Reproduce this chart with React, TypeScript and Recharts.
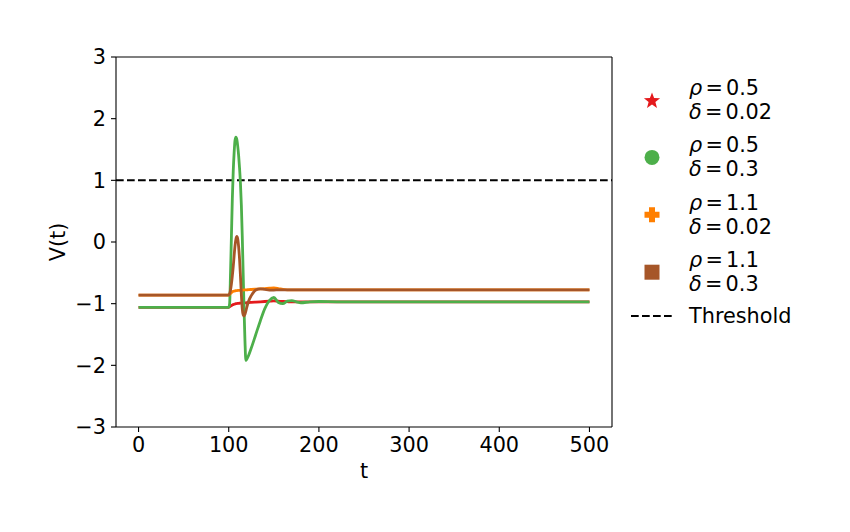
import { LineChart, Line, XAxis, YAxis, ReferenceLine } from 'recharts';

// time grid shared by every series
const tValues = [0, 100, 101, 102, 103, 104, 105, 106, 107, 108, 109, 110, 111, 112, 113, 114, 115, 116, 117, 118, 119, 120, 122, 125, 130, 135, 140, 145, 150, 155, 160, 165, 170, 175, 180, 190, 200, 220, 500];

// rho=0.5, delta=0.02
const redV = [-1.06, -1.06, -1.05, -1.04, -1.03, -1.02, -1.015, -1.01, -1.005, -1.0, -0.998, -0.995, -0.994, -0.993, -0.992, -0.991, -0.99, -0.989, -0.988, -0.987, -0.986, -0.985, -0.983, -0.98, -0.975, -0.97, -0.965, -0.96, -0.955, -0.96, -0.965, -0.968, -0.97, -0.97, -0.97, -0.97, -0.97, -0.97, -0.97];
// rho=0.5, delta=0.3
const greenV = [-1.06, -1.06, -1.0, -0.5, 0.1, 0.7, 1.15, 1.45, 1.65, 1.7, 1.66, 1.55, 1.4, 1.2, 0.95, 0.6, 0.1, -0.5, -1.1, -1.6, -1.92, -1.9, -1.84, -1.72, -1.5, -1.28, -1.08, -0.95, -0.9, -0.98, -1.0, -0.96, -0.95, -0.97, -0.985, -0.97, -0.965, -0.97, -0.97];
// rho=1.1, delta=0.02
const orangeV = [-0.86, -0.86, -0.85, -0.835, -0.82, -0.81, -0.8, -0.795, -0.792, -0.79, -0.788, -0.786, -0.785, -0.784, -0.783, -0.782, -0.78, -0.779, -0.778, -0.777, -0.776, -0.775, -0.773, -0.77, -0.765, -0.76, -0.755, -0.75, -0.745, -0.755, -0.77, -0.775, -0.775, -0.775, -0.775, -0.775, -0.775, -0.775, -0.775];
// rho=1.1, delta=0.3
const brownV = [-0.86, -0.86, -0.84, -0.78, -0.68, -0.55, -0.4, -0.22, -0.06, 0.05, 0.09, 0.05, -0.08, -0.28, -0.55, -0.85, -1.08, -1.18, -1.2, -1.17, -1.12, -1.06, -0.96, -0.87, -0.78, -0.76, -0.77, -0.78, -0.78, -0.775, -0.775, -0.775, -0.775, -0.775, -0.775, -0.775, -0.775, -0.775, -0.775];

const xTicks = [0, 100, 200, 300, 400, 500];
const yTicks = [-3, -2, -1, 0, 1, 2, 3];
const threshold = 1;

const seriesKeys = ['red', 'green', 'orange', 'brown'];
const colors: Record<string, string> = { red: '#e41a1c', green: '#4daf4a', orange: '#ff7f00', brown: '#a65628' };
const rhoLabels = ['0.5', '0.5', '1.1', '1.1'];
const deltaLabels = ['0.02', '0.3', '0.02', '0.3'];

const data = tValues.map((t, i) => ({
  t,
  red: redV[i],
  green: greenV[i],
  orange: orangeV[i],
  brown: brownV[i],
}));

const font = 'DejaVu Sans, sans-serif';
const fs = 20.8;
const minus = (v: number) => String(v).replace('-', '\u2212');

function starPoints(cx: number, cy: number, r: number) {
  const pts: string[] = [];
  for (let k = 0; k < 10; k++) {
    const rr = k % 2 === 0 ? r : r * 0.42;
    const a = -Math.PI / 2 + (k * Math.PI) / 5;
    pts.push(`${cx + rr * Math.cos(a)},${cy + rr * Math.sin(a)}`);
  }
  return pts.join(' ');
}

function Marker({ kind, x, y, color }: { kind: number; x: number; y: number; color: string }) {
  if (kind === 0) return <polygon points={starPoints(x, y + 1, 8.5)} fill={color} />;
  if (kind === 1) return <circle cx={x} cy={y} r={7.5} fill={color} />;
  if (kind === 2) {
    const a = 3, b = 7.5;
    const d = `M${x - a},${y - b}H${x + a}V${y - a}H${x + b}V${y + a}H${x + a}V${y + b}H${x - a}V${y + a}H${x - b}V${y - a}H${x - a}Z`;
    return <path d={d} fill={color} />;
  }
  return <rect x={x - 7.5} y={y - 7.5} width={15} height={15} fill={color} />;
}

function MathLine({ x, y, sym, val }: { x: number; y: number; sym: string; val: string }) {
  return (
    <text x={x} y={y} fontFamily={font} fontSize={fs}>
      <tspan fontStyle="italic">{sym}</tspan>
      <tspan dx={3.2}>=</tspan>
      <tspan dx={3.2}>{val}</tspan>
    </text>
  );
}

function Overlay() {
  return (
    <svg width={850} height={532} style={{ position: 'absolute', left: 0, top: 0, pointerEvents: 'none' }}>
      <text x={364} y={478} fontFamily={font} fontSize={fs} textAnchor="middle">t</text>
      <text x={65} y={242} fontFamily={font} fontSize={fs} textAnchor="middle" transform="rotate(-90 65 242)">V(t)</text>
      {seriesKeys.map((k, i) => {
        const cy = 100 + i * 57.4;
        return (
          <g key={k}>
            <Marker kind={i} x={652} y={cy} color={colors[k]} />
            <MathLine x={689} y={cy - 5} sym="ρ" val={rhoLabels[i]} />
            <MathLine x={689} y={cy + 19} sym="δ" val={deltaLabels[i]} />
          </g>
        );
      })}
      <line x1={631} x2={672} y1={316} y2={316} stroke="#000" strokeWidth={2} strokeDasharray="7.7 3.3" />
      <text x={689} y={323} fontFamily={font} fontSize={fs}>Threshold</text>
    </svg>
  );
}

export default function App() {
  return (
    <div style={{ position: 'absolute', left: 0, top: 0, width: 850, height: 532, background: '#fff' }}>
      <LineChart width={850} height={532} data={data} margin={{ top: 57, right: 238, bottom: 45, left: 56 }}>
        <XAxis
          dataKey="t"
          type="number"
          domain={[-25, 525]}
          ticks={xTicks}
          allowDataOverflow
          height={60}
          stroke="#000"
          strokeWidth={1.1}
          tickSize={5}
          tickMargin={5}
          tick={{ fill: '#000', fontSize: fs, fontFamily: font }}
        />
        <YAxis
          type="number"
          domain={[-3, 3]}
          ticks={yTicks}
          allowDataOverflow
          width={60}
          stroke="#000"
          strokeWidth={1.1}
          tickSize={5}
          tickMargin={5}
          tickFormatter={minus}
          tick={{ fill: '#000', fontSize: fs, fontFamily: font }}
        />
        <ReferenceLine y={3} stroke="#000" strokeWidth={1.1} />
        <ReferenceLine x={525} stroke="#000" strokeWidth={1.1} />
        <ReferenceLine y={threshold} stroke="#000" strokeWidth={2} strokeDasharray="7.7 3.3" />
        {seriesKeys.map((k) => (
          <Line
            key={k}
            dataKey={k}
            type="monotone"
            stroke={colors[k]}
            strokeWidth={2.8}
            dot={false}
            isAnimationActive={false}
          />
        ))}
      </LineChart>
      <Overlay />
    </div>
  );
}
